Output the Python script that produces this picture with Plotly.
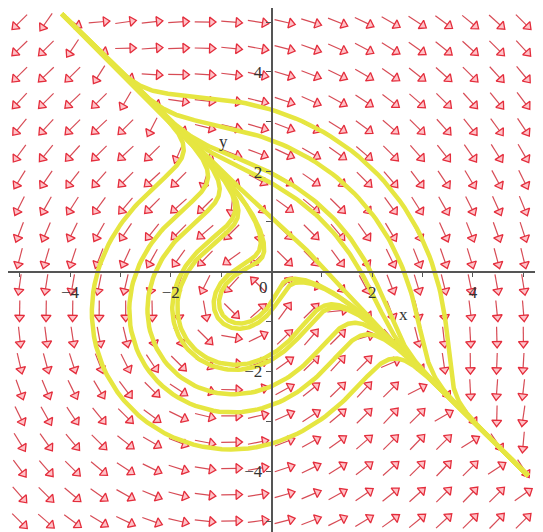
import numpy as np
import plotly.graph_objects as go

# ---- data ----
# planar system read from the direction field: x' = x + x*y + y^2 , y' = -y - x*y - x^2
# initial conditions of the solution curves (points where they cross the y axis)
ic_x = [0, 0, 0, 0, 0, 0, 0, 0, 0, 0, 0, 0]
ic_y = [3.24, 2.63, 1.97, 1.77, 1.1, -0.61, -0.78, -1.66, -1.77, -2.3, -2.68, -3.45]
# arrow grid
grid_x = np.linspace(-5, 5, 20)
grid_y = np.linspace(-5, 5, 20)
# axis ticks
tick_vals = [-5, -4, -3, -2, -1, 1, 2, 3, 4, 5]
tick_text = ["", "\u22124", "", "\u22122", "", "", "2", "", "4", ""]

W, H = 543, 532
sx, sy = 50.37, 49.9          # px per unit
OFF = 8                        # page body margin of the html page
XR = [-271.5 / sx + OFF / sx, (W - 271.5) / sx + OFF / sx]
YR = [-(H - 271.5) / sy - OFF / sy, 271.5 / sy - OFF / sy]


def field(x, y):
    return x + x * y + y * y, -y - x * y - x * x


def integrate(x0, y0, sgn, h=0.004, nmax=40000):
    xs, ys = [x0], [y0]
    x, y = x0, y0
    hh = h * sgn
    for i in range(nmax):
        k1 = field(x, y)
        k2 = field(x + hh / 2 * k1[0], y + hh / 2 * k1[1])
        k3 = field(x + hh / 2 * k2[0], y + hh / 2 * k2[1])
        k4 = field(x + hh * k3[0], y + hh * k3[1])
        x += hh / 6 * (k1[0] + 2 * k2[0] + 2 * k3[0] + k4[0])
        y += hh / 6 * (k1[1] + 2 * k2[1] + 2 * k3[1] + k4[1])
        xs.append(x)
        ys.append(y)
        if x > 5.09 or y > 5.16 or x < -5.3 or y < -5.3:
            break
    return xs, ys


fig = go.Figure()

# ---- arrows (direction field, normalised length in screen space) ----
L = 21.0  # px
shaft_x, shaft_y = [], []
head_x, head_y, head_a = [], [], []
for gx in grid_x:
    for gy in grid_y:
        u, v = field(gx, gy)
        px, py = u * sx, v * sy
        n = (px * px + py * py) ** 0.5
        if n == 0:
            continue
        px, py = px / n, py / n
        shaft_x += [gx - px * L / 2 / sx, gx + px * (L / 2 - 5) / sx, None]
        shaft_y += [gy - py * L / 2 / sy, gy + py * (L / 2 - 5) / sy, None]
        head_x.append(gx + px * (L / 2 - 4) / sx)
        head_y.append(gy + py * (L / 2 - 4) / sy)
        head_a.append(float(np.degrees(np.arctan2(px, py))))

fig.add_trace(go.Scatter(x=shaft_x, y=shaft_y, mode="lines",
                         line=dict(color="rgb(215,75,85)", width=1.2),
                         hoverinfo="skip", showlegend=False))
fig.add_trace(go.Scatter(x=head_x, y=head_y, mode="markers",
                         marker=dict(symbol="triangle-up", size=8.5, angle=head_a,
                                     color="rgb(255,195,200)",
                                     line=dict(color="rgb(228,45,60)", width=1.3)),
                         hoverinfo="skip", showlegend=False))

# ---- solution curves ----
for x0, y0 in zip(ic_x, ic_y):
    bx, by = integrate(x0, y0, -1)
    fx, fy = integrate(x0, y0, 1)
    cx = bx[::-1] + fx[1:]
    cy = by[::-1] + fy[1:]
    fig.add_trace(go.Scatter(x=cx[::3] + [cx[-1]], y=cy[::3] + [cy[-1]], mode="lines",
                             line=dict(color="rgb(230,230,65)", width=4.5),
                             hoverinfo="skip", showlegend=False))

font = dict(family="Liberation Serif, Times New Roman, serif", size=17, color="#333")
fig.add_annotation(x=-0.15, y=-0.33, text="0", showarrow=False, font=font)
fig.add_annotation(x=2.63, y=-0.86, text="x", showarrow=False, font=font)
fig.add_annotation(x=-0.96, y=2.6, text="y", showarrow=False, font=font)

axis_common = dict(showgrid=False, zeroline=False, showline=True, linecolor="#555",
                   linewidth=1.5, ticks="outside", ticklen=5, tickwidth=1.2,
                   tickcolor="#555", tickmode="array", tickvals=tick_vals,
                   ticktext=tick_text, tickfont=font, anchor="free")
fig.update_layout(
    width=W, height=H, margin=dict(l=0, r=0, t=0, b=0),
    paper_bgcolor="white", plot_bgcolor="white",
    xaxis=dict(range=XR, position=(0 - YR[0]) / (YR[1] - YR[0]), **axis_common),
    yaxis=dict(range=YR, position=(0 - XR[0]) / (XR[1] - XR[0]), **axis_common),
)
fig.write_html("out.html")
